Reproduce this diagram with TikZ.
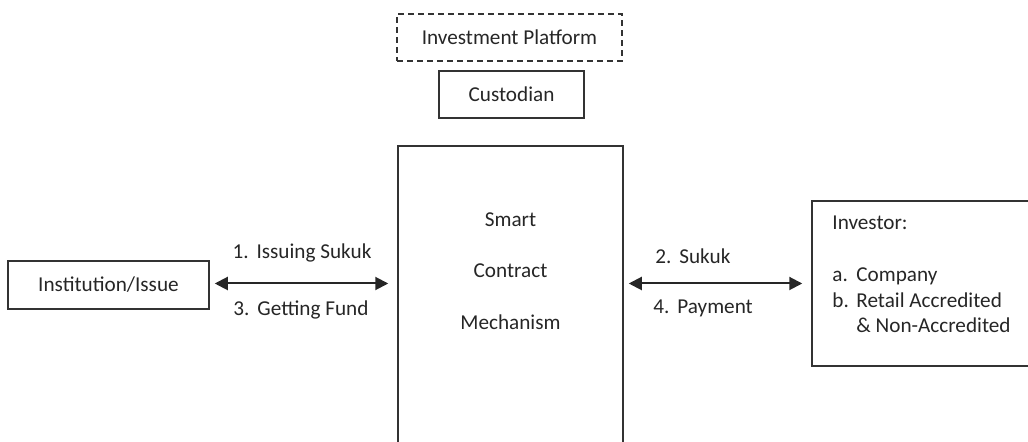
\documentclass[tikz,border=0pt]{standalone}
\usepackage{fontspec}
\setmainfont{Carlito}
\usetikzlibrary{arrows.meta}
\newcommand{\numitem}[1]{\makebox[12pt][l]{#1}}
\begin{document}
\begin{tikzpicture}
  [x=0.5pt,y=-0.5pt,
   every node/.style={font=\fontsize{10.6}{12.9}\selectfont,text=black!85},
   box/.style={draw=black!80,line width=0.75pt,inner sep=0pt},
   dashbox/.style={box,line width=1.1pt,dash pattern=on 3pt off 2pt},
   plain/.style={inner sep=0pt},
   link/.style={draw=black!85,line width=1pt,{Triangle[length=6.5pt,width=6.5pt]}-{Triangle[length=6.5pt,width=6.5pt]},
     shorten <=2.5pt,shorten >=4.5pt}]
  \clip (0,0) rectangle (1028,442);
  \node[dashbox,minimum width=112.5pt,minimum height=23.5pt] (plat) at (509.5,37.5) {Investment Platform};
  \node[box,minimum width=72.5pt,minimum height=23.5pt] (cust) at (511.5,94.5) {Custodian};
  \node[box,minimum width=112.5pt,minimum height=157pt] (smart) at (510.5,303) {};
   \node[plain,align=center] (smarttxt) at (510.5,271) {Smart\\[12.85pt]Contract\\[12.85pt]Mechanism};
  \node[box,minimum width=100.5pt,minimum height=24pt] (inst) at (108.5,285) {Institution/Issue};
  \node[box,minimum width=114pt,minimum height=82.5pt] (inv) at (926,283.5) {};
   \node[plain,align=left,anchor=west] (invtxt) at (832,274.5)
     {Investor:\\ \\\numitem{a.}Company\\\numitem{b.}Retail Accredited\\\hspace*{12pt}\& Non-Accredited};
  \node[plain] (lbl1) at (302,253) {\numitem{1.}Issuing Sukuk};
  \node[plain] (lbl3) at (301,310) {\numitem{3.}Getting Fund};
  \node[plain,anchor=west] (lbl2) at (655,256) {\numitem{2.}Sukuk};
  \node[plain,anchor=west] (lbl4) at (653,308) {\numitem{4.}Payment};
  \foreach \from/\to in {inst.east |- inv.west/smart.west |- inv.west,
  smart.east |- inv.west/inv.west}
    \draw[link] (\from) -- (\to);
\end{tikzpicture}
\end{document}
